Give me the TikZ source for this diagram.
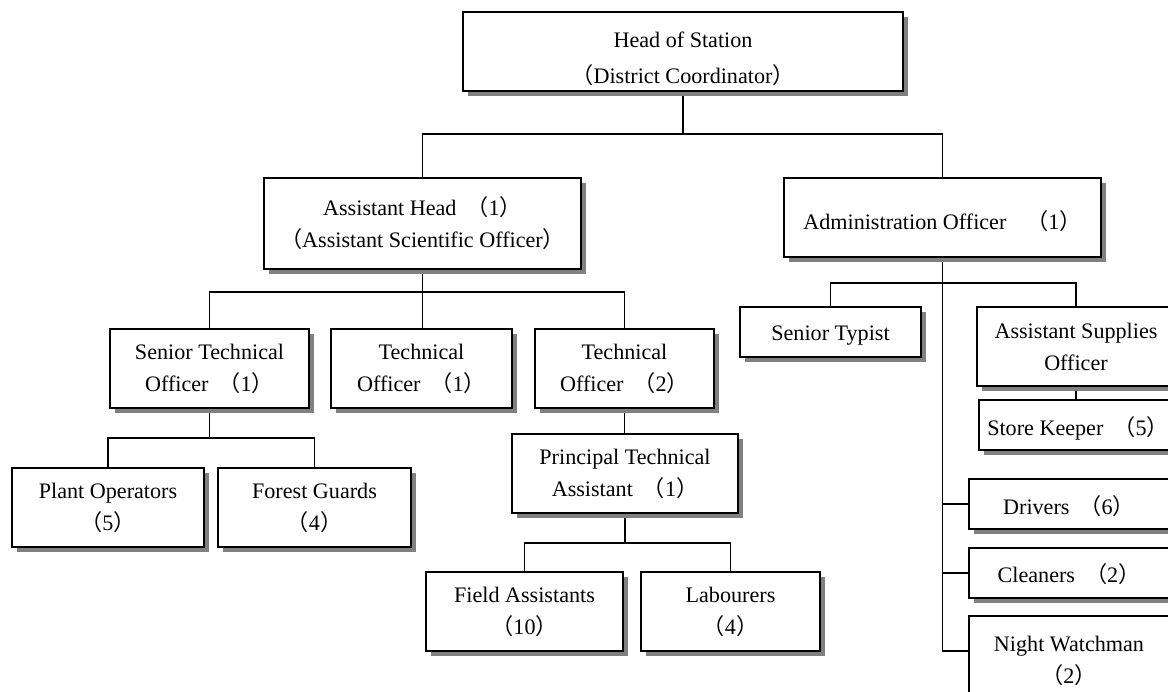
\documentclass[tikz,border=0pt]{standalone}
\usepackage{fontspec}
\setmainfont{Liberation Serif}
\newfontfamily\cjk{Noto Sans CJK SC}
\usetikzlibrary{shadows,backgrounds,calc}
% full-width brackets for head counts
\newcommand\lp{{\cjk （}}
\newcommand\rp{{\cjk ）}}
\newcommand\cnt[1]{\hspace{0.45em}\lp#1\rp}
% lowers a (multi-line) label inside its box, keeping its size
\newcommand\dn[2]{\raisebox{-#1}[\height][\depth]{\begin{tabular}{@{}c@{}}#2\end{tabular}}}
\definecolor{shadowgray}{RGB}{128,128,128}
\tikzset{
  orgbox/.style={draw=black, line width=1.5pt, fill=white, align=center, inner sep=0pt,
    font=\fontsize{16.6}{24}\selectfont,
    general shadow={fill=shadowgray, shadow xshift=3.75pt, shadow yshift=-3.75pt}},
  sz/.style 2 args={minimum width=#1*0.75pt, minimum height=#2*0.75pt},
  conn/.style={line width=1.3pt, line join=miter}
}
\begin{document}
\begin{tikzpicture}[x=0.75pt, y=-0.75pt]
\useasboundingbox (0,0) rectangle (1168,692);
\clip (0,0) rectangle (1168,692);

% levels of the horizontal bus lines
\coordinate (b1) at (0,134);
\coordinate (b2) at (0,292);
\coordinate (b3) at (0,438);
\coordinate (b4) at (0,543);
\coordinate (b5) at (0,283);

% top
\node[orgbox, sz={440}{79}, font=\fontsize{16.6}{27}\selectfont] (head) at (683,51.5)
  {\dn{5pt}{Head of Station\\\lp District Coordinator\rp}};

% second level
\node[orgbox, sz={317}{91}] (ah) at (422.5,223.5)
  {Assistant Head\cnt{1}\\\lp Assistant Scientific Officer\rp};
\node[orgbox, sz={317}{79}] (admin) at (942.5,217.5)
  {\dn{4.5pt}{Administration Officer\hspace{0.9em}\lp1\rp}};

% technical branch
\node[orgbox, sz={199}{79}] (sto) at (209.5,368.5) {Senior Technical\\Officer\cnt{1}};
\node[orgbox, sz={181}{79}] (to1) at (421.5,368.5) {Technical\\Officer\cnt{1}};
\node[orgbox, sz={179}{79}] (to2) at (624.5,368.5) {Technical\\Officer\cnt{2}};

\node[orgbox, sz={192}{79}] (plant) at (108,507.5) {Plant Operators\\\lp5\rp};
\node[orgbox, sz={193}{79}] (forest) at (314.5,507.5) {Forest Guards\\\lp4\rp};

\node[orgbox, sz={226}{79}] (pta) at (625,473.5) {Principal Technical\\Assistant\cnt{1}};
\node[orgbox, sz={197}{79}] (field) at (524.5,611.5) {Field Assistants\\\lp10\rp};
\node[orgbox, sz={179}{79}] (lab) at (730.5,611.5) {Labourers\\\lp4\rp};

% administration branch
\node[orgbox, sz={181}{50}] (typist) at (830.5,332) {\dn{1.5pt}{Senior Typist}};
\node[orgbox, sz={198}{79}] (asup) at (1076,346.5) {Assistant Supplies\\Officer};
\node[orgbox, sz={198}{50}] (store) at (1078,425) {\dn{3pt}{Store Keeper\cnt{5}}};
\node[orgbox, sz={200}{50}] (drivers) at (1069,504) {\dn{3pt}{Drivers\cnt{6}}};
\node[orgbox, sz={200}{50}] (cleaners) at (1069,573) {\dn{2pt}{Cleaners\cnt{2}}};
\node[orgbox, sz={200}{90}] (night) at (1069,661) {Night Watchman\\\lp2\rp};
\coordinate (nw) at ($(night.north west)+(0,36)$);

\begin{scope}[on background layer]
  \draw[conn] (head.south) -- (head.south |- b1);
  \draw[conn] (ah.north) |- (admin.north |- b1) -- (admin.north);

  \draw[conn] (ah.south) -- (ah.south |- to1.north);
  \draw[conn] (sto.north) |- (to2.north |- b2) -- (to2.north);

  \draw[conn] (sto.south) -- (sto.south |- b3);
  \draw[conn] (plant.north) |- (forest.north |- b3) -- (forest.north);

  \draw[conn] (to2.south) -- (to2.south |- pta.north);
  \draw[conn] (pta.south) -- (pta.south |- b4);
  \draw[conn] (field.north) |- (lab.north |- b4) -- (lab.north);

  \draw[conn] (admin.south) |- (nw);
  \draw[conn] (typist.north) |- (asup.north |- b5) -- (asup.north);
  \draw[conn] (asup.south) -- (asup.south |- store.north);
  \draw[conn] (drivers.west) -- (drivers.west -| admin.south);
  \draw[conn] (cleaners.west) -- (cleaners.west -| admin.south);
\end{scope}
\end{tikzpicture}
\end{document}
